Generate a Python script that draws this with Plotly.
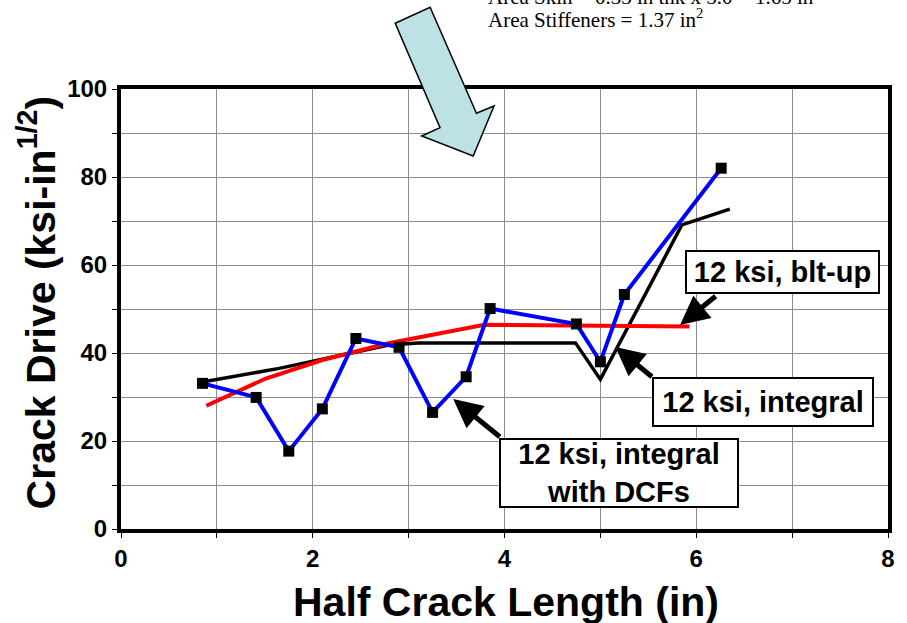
import plotly.graph_objects as go

# ---- data ----
dcf_x = [0.85, 1.41, 1.75, 2.10, 2.45, 2.90, 3.25, 3.60, 3.85, 4.75, 5.00, 5.25, 6.26]
dcf_y = [33.1, 29.9, 17.7, 27.3, 43.3, 41.3, 26.5, 34.6, 50.1, 46.6, 38.0, 53.3, 82.0]

integral_x = [0.85, 1.65, 2.38, 2.79, 3.10, 4.14, 4.74, 5.00, 5.85, 6.35]
integral_y = [33.4, 36.5, 39.9, 41.8, 42.3, 42.2, 42.3, 34.0, 69.1, 72.7]

builtup_x = [0.89, 1.51, 2.10, 2.79, 3.79, 4.14, 5.00, 5.93]
builtup_y = [28.0, 34.2, 38.4, 42.2, 46.4, 46.4, 46.2, 46.0]

x_ticks = [0, 2, 4, 6, 8]
y_ticks = [0, 20, 40, 60, 80, 100]

# ---- layout geometry (pixels) ----
W, H = 907, 623
L, R, T, B = 121, 892, 89, 529


def px(xp):
    return (xp - L) / (R - L)


def py(yp):
    return (B - yp) / (B - T)


fig = go.Figure()
fig.add_trace(go.Scatter(x=integral_x, y=integral_y, mode="lines",
                         line=dict(color="black", width=3.5), showlegend=False))
fig.add_trace(go.Scatter(x=builtup_x, y=builtup_y, mode="lines",
                         line=dict(color="#ff0000", width=4), showlegend=False))
fig.add_trace(go.Scatter(x=dcf_x, y=dcf_y, mode="lines+markers",
                         line=dict(color="#0000ff", width=4),
                         marker=dict(symbol="square", size=11, color="black"),
                         showlegend=False))

bold = "Liberation Sans, Arial"
tickfont = dict(family=bold, size=24, color="black", weight="bold")
fig.update_xaxes(range=[0, 8], tickvals=x_ticks, ticks="outside", ticklen=5,
                 tickwidth=1, tickcolor="black",
                 showgrid=True, gridcolor="#8c8c8c", gridwidth=1,
                 minor=dict(dtick=1, tick0=0, ticks="outside", ticklen=5, tickcolor="black",
                            showgrid=True, gridcolor="#8c8c8c", gridwidth=1),
                 showline=True, linecolor="black", linewidth=4, mirror=True,
                 zeroline=False, tickfont=tickfont)
fig.update_yaxes(range=[0, 100], tickvals=y_ticks, ticks="outside", ticklen=5,
                 tickwidth=1, tickcolor="black",
                 showgrid=True, gridcolor="#8c8c8c", gridwidth=1,
                 minor=dict(dtick=10, tick0=0, ticks="outside", ticklen=5, tickcolor="black",
                            showgrid=True, gridcolor="#8c8c8c", gridwidth=1),
                 showline=True, linecolor="black", linewidth=4, mirror=True,
                 zeroline=False, tickfont=tickfont)

ann = []
# axis titles
ann.append(dict(text="<b>Half Crack Length (in)</b>", xref="paper", yref="paper",
                x=px(508), y=py(602), xanchor="center", yanchor="middle", showarrow=False,
                font=dict(family=bold, size=41, color="black")))
ann.append(dict(text="<b>Crack Drive (ksi-in<sup>1/2</sup>)</b>", xref="paper", yref="paper",
                x=px(37), y=py(302), xanchor="center", yanchor="middle", showarrow=False,
                textangle=-90, font=dict(family=bold, size=41, color="black")))

# top note
serif = "Liberation Serif, Times New Roman"
ann.append(dict(text="Area Skin = 0.33 in thk x 5.0 = 1.65 in<sup>2</sup>", xref="paper", yref="paper",
                x=px(488), y=py(-4), xanchor="left", yanchor="middle", showarrow=False,
                font=dict(family=serif, size=21, color="black")))
ann.append(dict(text="Area Stiffeners = 1.37 in<sup>2</sup>", xref="paper", yref="paper",
                x=px(488), y=py(18), xanchor="left", yanchor="middle", showarrow=False,
                font=dict(family=serif, size=21, color="black")))

# label boxes
boxes = [
    ("<b>12 ksi, blt-up</b>", 785.5, 272, 195, 44),
    ("<b>12 ksi, integral</b>", 766, 402, 222, 50),
    ("<b>12 ksi, integral<br>with DCFs</b>", 622, 473, 240, 70),
]
for txt, cx, cy, w, h in boxes:
    ann.append(dict(text=txt, xref="paper", yref="paper", x=px(cx), y=py(cy),
                    xanchor="center", yanchor="middle", showarrow=False,
                    width=w - 4, height=h - 4, bgcolor="white", bordercolor="black",
                    borderwidth=2, borderpad=0,
                    font=dict(family=bold, size=29, color="black")))

# pointer arrows (tail pixel, tip pixel)
arrows = [((720, 295), (683, 325)),
          ((656, 378), (618, 347)),
          ((503, 438), (455, 399))]
for (tx, ty), (hx, hy) in arrows:
    ann.append(dict(text="", xref="paper", yref="paper", x=px(hx), y=py(hy),
                    axref="pixel", ayref="pixel", ax=tx - hx, ay=ty - hy,
                    showarrow=True, arrowhead=2, arrowsize=1.15, arrowwidth=5,
                    arrowcolor="black", standoff=0, startstandoff=0))

fig.update_layout(annotations=ann)

# big block arrow
pts = [(396.7, 23.3), (431.7, 7.3), (478.3, 113.3), (496, 106), (475, 156),
       (423.3, 136), (441.7, 127.7)]
path = "M " + " L ".join(f"{px(a):.5f},{py(b):.5f}" for a, b in pts) + " Z"
fig.add_shape(type="path", path=path, xref="paper", yref="paper",
              fillcolor="#bde1e5", line=dict(color="black", width=1.5), layer="above")

fig.update_layout(width=W, height=H, plot_bgcolor="white", paper_bgcolor="white",
                  margin=dict(l=L, r=W - R, t=T, b=H - B, pad=0),
                  showlegend=False)

fig.write_html("out.html", config={"displayModeBar": False},
               post_script="document.body.style.margin='0px';")
